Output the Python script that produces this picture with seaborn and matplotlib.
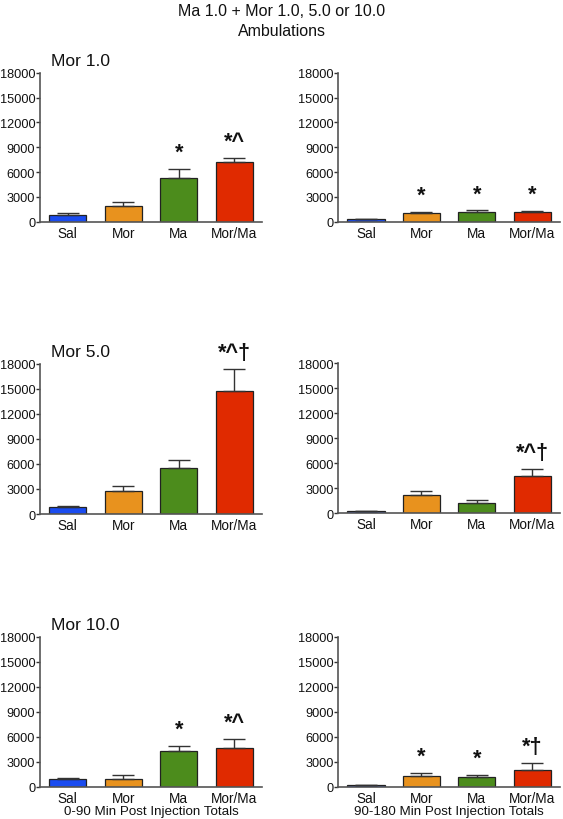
import matplotlib
matplotlib.use("Agg")
import matplotlib.pyplot as plt
import numpy as np
import pandas as pd
import seaborn as sns

# Groups and colours
GROUPS = ["Sal", "Mor", "Ma", "Mor/Ma"]
COLORS = ["#1a4cf0", "#e8921e", "#4c8c1c", "#e02a00"]

# Panel means (ambulations)
MOR1_0_90 = [845, 1900, 5310, 7210]
MOR1_90_180 = [290, 1050, 1170, 1130]
MOR5_0_90 = [840, 2720, 5520, 14800]
MOR5_90_180 = [280, 2160, 1240, 4480]
MOR10_0_90 = [920, 960, 4250, 4640]
MOR10_90_180 = [200, 1280, 1130, 2040]

# SEM (upper error bars)
MOR1_0_90_SEM = [155, 440, 1060, 450]
MOR1_90_180_SEM = [60, 150, 200, 160]
MOR5_0_90_SEM = [160, 680, 960, 2560]
MOR5_90_180_SEM = [50, 480, 390, 800]
MOR10_0_90_SEM = [120, 440, 600, 1120]
MOR10_90_180_SEM = [50, 400, 240, 840]

# Significance marks
MOR1_0_90_SIG = ["", "", "*", "*^"]
MOR1_90_180_SIG = ["", "*", "*", "*"]
MOR5_0_90_SIG = ["", "", "", "*^\u2020"]
MOR5_90_180_SIG = ["", "", "", "*^\u2020"]
MOR10_0_90_SIG = ["", "", "*", "*^"]
MOR10_90_180_SIG = ["", "*", "*", "*\u2020"]

PANEL_LABELS = ["Mor 1.0", "", "Mor 5.0", "", "Mor 10.0", ""]
Y_TICKS = [0, 3000, 6000, 9000, 12000, 15000, 18000]

sns.set_style("ticks")
plt.rcParams["font.family"] = ["Liberation Sans", "DejaVu Sans"]

W, H = 563, 820
fig = plt.figure(figsize=(W / 100, H / 100), dpi=100)


def rect(l, r, top, bottom):
    return [l / W, 1 - bottom / H, (r - l) / W, (bottom - top) / H]


panels = [
    (rect(40, 262, 73.7, 222.7), MOR1_0_90, MOR1_0_90_SEM, MOR1_0_90_SIG),
    (rect(338.3, 560, 73.7, 222.7), MOR1_90_180, MOR1_90_180_SEM, MOR1_90_180_SIG),
    (rect(40, 262, 365, 515), MOR5_0_90, MOR5_0_90_SEM, MOR5_0_90_SIG),
    (rect(338.3, 560, 364.3, 514.3), MOR5_90_180, MOR5_90_180_SEM, MOR5_90_180_SIG),
    (rect(40, 262, 637.7, 787.7), MOR10_0_90, MOR10_0_90_SEM, MOR10_0_90_SIG),
    (rect(338.3, 560, 637.7, 787.7), MOR10_90_180, MOR10_90_180_SEM, MOR10_90_180_SIG),
]

axes = []
for i, (r, means, sems, sigs) in enumerate(panels):
    ax = fig.add_axes(r)
    axes.append(ax)
    df = pd.DataFrame({"group": GROUPS, "value": means})
    sns.barplot(
        data=df, x="group", y="value", hue="group", palette=COLORS,
        saturation=1, width=0.67, edgecolor="#222222", linewidth=0.9,
        legend=False, errorbar=None, ax=ax, zorder=2,
    )
    ax.errorbar(
        np.arange(len(GROUPS)), means, yerr=[np.zeros(len(sems)), sems],
        fmt="none", ecolor="#333333", elinewidth=1.0, capsize=8, capthick=1.0,
        zorder=3,
    )
    for j, s in enumerate(sigs):
        if s:
            ax.annotate(
                s, xy=(j, means[j] + sems[j]), xytext=(0, 8),
                textcoords="offset points", ha="center", va="baseline",
                fontsize=15.5, fontweight="bold", color="#111111",
            )
    ax.set_xlim(-0.5, 3.5)
    ax.set_ylim(0, 18000)
    ax.set_yticks(Y_TICKS)
    ax.set_yticklabels([str(t) for t in Y_TICKS])
    ax.set_xlabel("")
    ax.set_ylabel("")
    ax.tick_params(axis="y", length=3, width=1, colors="#333333",
                   labelsize=9.2, labelcolor="#111111", pad=0.5)
    ax.tick_params(axis="x", length=0, labelsize=9.8, labelcolor="#111111", pad=3)
    for side in ["top", "right"]:
        ax.spines[side].set_visible(False)
    for side in ["left", "bottom"]:
        ax.spines[side].set_color("#555555")
        ax.spines[side].set_linewidth(1.2)
    if PANEL_LABELS[i]:
        ax.text(0.05, 1.03, PANEL_LABELS[i], transform=ax.transAxes,
                fontsize=12.5, ha="left", va="bottom", color="#111111")

axes[4].set_xlabel("0-90 Min Post Injection Totals", fontsize=9.6,
                   color="#111111", labelpad=0)
axes[5].set_xlabel("90-180 Min Post Injection Totals", fontsize=9.6,
                   color="#111111", labelpad=0)

fig.text(282 / W, 1 - 12 / H, "Ma 1.0 + Mor 1.0, 5.0 or 10.0", ha="center",
         va="center", fontsize=11.5, color="#111111")
fig.text(282 / W, 1 - 32 / H, "Ambulations", ha="center", va="center",
         fontsize=11.5, color="#111111")

fig.savefig("out.png", dpi=100)
